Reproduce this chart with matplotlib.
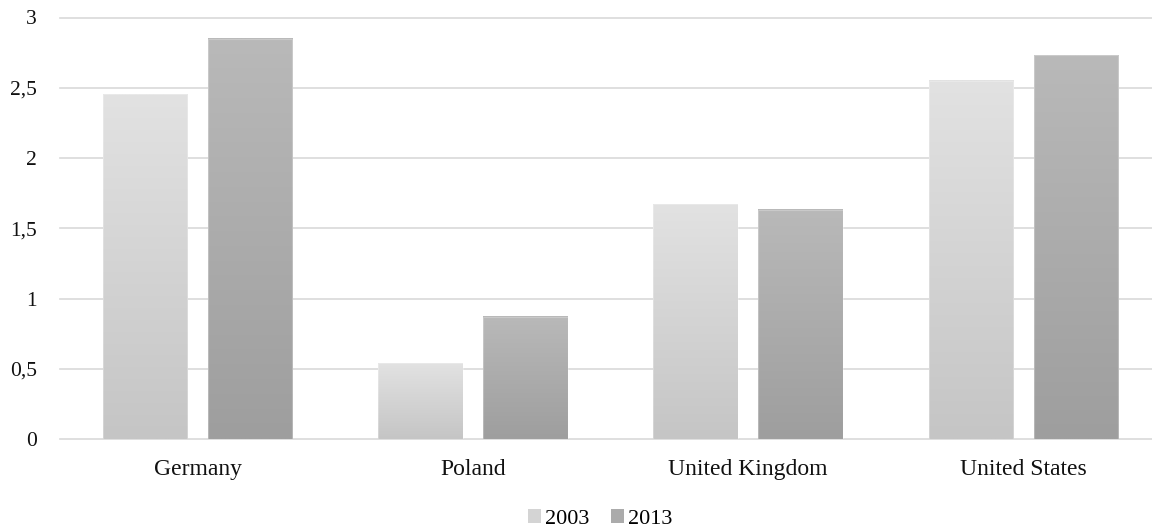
import numpy as np
import matplotlib
matplotlib.use("Agg")
import matplotlib.pyplot as plt
from matplotlib.colors import LinearSegmentedColormap
from matplotlib.patches import Patch

countries = ["Germany", "Poland", "United Kingdom", "United States"]
v2003 = [2.455, 0.54, 1.67, 2.55]
v2013 = [2.85, 0.87, 1.63, 2.73]
yticks = [0, 0.5, 1, 1.5, 2, 2.5, 3]
ytick_labels = ["0", "0,5", "1", "1,5", "2", "2,5", "3"]

plt.rcParams['font.family'] = ['Liberation Serif', 'DejaVu Serif']

fig = plt.figure(figsize=(11.52, 5.28), dpi=100)
W, H = 1152, 528
# axes spans slightly beyond the right edge, like the original export
ax = fig.add_axes([60 / W, 1 - 439 / H, 1101 / W, 421.5 / H])

series = [
    (v2003, "2003", "#e2e2e2", "#c5c5c5", -0.191),
    (v2013, "2013", "#b9b9b9", "#9e9e9e", 0.191),
]
width = 0.307
x = np.arange(len(countries))
grad = np.linspace(0, 1, 256).reshape(-1, 1)

for vals, name, top, bottom, off in series:
    cmap = LinearSegmentedColormap.from_list(name, [bottom, top])
    bars = ax.bar(x + off, vals, width, color="none", edgecolor="none", zorder=2)
    for b in bars:
        x0 = b.get_x()
        h = b.get_height()
        ax.imshow(grad, extent=[x0, x0 + width, 0, h], cmap=cmap, origin="lower",
                  aspect="auto", zorder=2, interpolation="bilinear")
        ax.add_patch(plt.Rectangle((x0, 0), width, h, fill=False,
                                   edgecolor=(1, 1, 1, 0.25), linewidth=0.8, zorder=3))

ax.set_xlim(-0.5, 3.5)
ax.set_ylim(0, 3)
ax.set_aspect("auto")

for y in yticks:
    ax.axhline(y, color="#d9d9d9", linewidth=1.2, zorder=1, clip_on=False)

for s in ax.spines.values():
    s.set_visible(False)

ax.set_yticks(yticks)
ax.set_yticklabels(ytick_labels, fontsize=15.5)
ax.set_xticks(x)
ax.set_xticklabels(countries, fontsize=17)
ax.tick_params(axis="both", length=0, colors="#111111")
ax.tick_params(axis="y", pad=16.5)
ax.tick_params(axis="x", pad=14.5)

handles = [Patch(facecolor="#d4d4d4", edgecolor="none"),
           Patch(facecolor="#ababab", edgecolor="none")]
fig.legend(handles, ["2003", "2013"], loc="center", bbox_to_anchor=(600 / W, 1 - 519 / H),
           ncol=2, frameon=False, fontsize=16, handlelength=0.6, handleheight=0.6,
           handletextpad=0.15, columnspacing=1.0)

fig.savefig("out.png", dpi=100)
